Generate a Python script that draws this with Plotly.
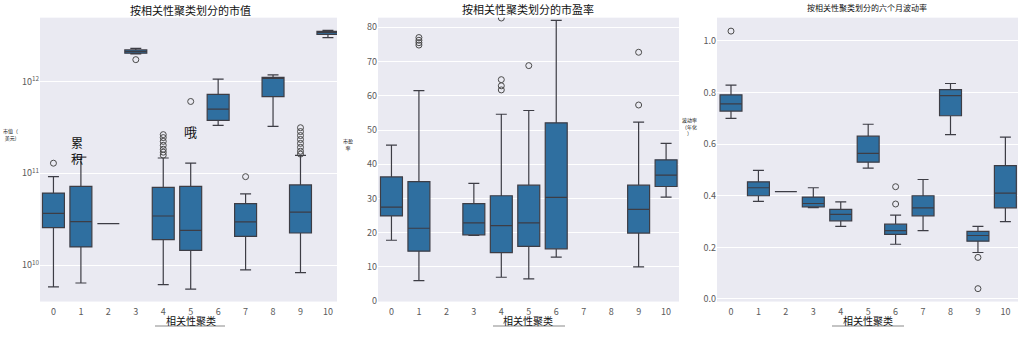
import plotly.graph_objects as go

W, H = 1024, 338
FONT = "Noto Sans CJK SC"

# ---------------- data ----------------
tick_cats = list(range(11))

# Panel 1: market cap (USD), log axis
cats1 = [0, 1, 2, 3, 4, 5, 6, 7, 8, 9, 10]
low1 = [5.8e9, 6.4e9, 2.83e10, 2.0e12, 6.15e9, 5.5e9, 3.33e11, 8.9e9, 3.24e11, 8.3e9, 3.0e12]
q1_1 = [2.57e10, 1.58e10, 2.83e10, 2.03e12, 1.9e10, 1.45e10, 3.77e11, 2.06e10, 6.85e11, 2.24e10, 3.26e12]
med1 = [3.66e10, 2.98e10, 2.83e10, 2.12e12, 3.43e10, 2.39e10, 5.0e11, 2.96e10, 1.09e12, 3.78e10, 3.43e12]
q3_1 = [6.1e10, 7.2e10, 2.83e10, 2.21e12, 7.05e10, 7.2e10, 7.26e11, 4.68e10, 1.11e12, 7.48e10, 3.51e12]
up1 = [9.2e10, 1.5e11, 2.83e10, 2.29e12, 1.47e11, 1.29e11, 1.06e12, 5.98e10, 1.18e12, 1.57e11, 3.6e12]
out1_x = [0, 3, 4, 4, 4, 4, 4, 4, 4, 5, 7, 9, 9, 9, 9, 9, 9, 9, 9]
out1_y = [1.29e11, 1.73e12, 2.64e11, 2.45e11, 2.23e11, 2.02e11, 1.83e11, 1.70e11, 1.58e11,
          6.06e11, 9.2e10, 3.14e11, 2.85e11, 2.58e11, 2.34e11, 2.12e11, 1.92e11, 1.74e11, 1.62e11]
ticks1 = [1e10, 1e11, 1e12]
ticklabels1 = ["10<sup>10</sup>", "10<sup>11</sup>", "10<sup>12</sup>"]

# Panel 2: P/E ratio
cats2 = [0, 1, 3, 4, 5, 6, 9, 10]
low2 = [17.8, 6.0, 19.2, 7.0, 6.5, 12.9, 10.0, 30.4]
q1_2 = [24.9, 14.6, 19.4, 14.2, 16.0, 15.3, 19.9, 33.5]
med2 = [27.5, 21.3, 22.9, 22.1, 22.9, 30.3, 26.8, 36.8]
q3_2 = [36.3, 34.9, 28.5, 30.8, 33.9, 52.1, 33.9, 41.3]
up2 = [45.6, 61.5, 34.4, 54.6, 55.7, 82.0, 52.3, 46.1]
out2_x = [1, 1, 1, 1, 4, 4, 4, 4, 5, 9, 9]
out2_y = [77.0, 76.2, 75.5, 74.8, 82.7, 64.7, 62.9, 61.7, 68.8, 72.7, 57.3]

# Panel 3: six-month volatility
cats3 = [0, 1, 2, 3, 4, 5, 6, 7, 8, 9, 10]
low3 = [0.700, 0.378, 0.416, 0.354, 0.281, 0.507, 0.212, 0.265, 0.637, 0.180, 0.300]
q1_3 = [0.728, 0.400, 0.416, 0.357, 0.303, 0.530, 0.250, 0.322, 0.710, 0.224, 0.353]
med3 = [0.756, 0.431, 0.416, 0.370, 0.328, 0.564, 0.265, 0.353, 0.788, 0.246, 0.410]
q3_3 = [0.791, 0.454, 0.416, 0.395, 0.347, 0.631, 0.290, 0.400, 0.811, 0.262, 0.517]
up3 = [0.829, 0.498, 0.416, 0.431, 0.376, 0.677, 0.325, 0.463, 0.835, 0.281, 0.627]
out3_x = [0, 6, 6, 9, 9]
out3_y = [1.038, 0.435, 0.368, 0.161, 0.040]

titles = ["按相关性聚类划分的市值", "按相关性聚类划分的市盈率", "按相关性聚类划分的六个月波动率"]
ytitles = ["市值（<br>美元)", "市盈<br>率", "波动率<br>（年化<br>）"]
xtitle = "相关性聚类"

# ---------------- styling ----------------
FILL = "#2f6fa0"
LINE = "#3d3d45"
BG = "#EAEAF2"
TICKC = "#5a5a5a"

def px(x):
    return x / W

def py(y):
    return 1 - y / H

fig = go.Figure()

panels = [
    (cats1, low1, q1_1, med1, q3_1, up1, out1_x, out1_y),
    (cats2, low2, q1_2, med2, q3_2, up2, out2_x, out2_y),
    (cats3, low3, q1_3, med3, q3_3, up3, out3_x, out3_y),
]
for i, (c, lo, a, m, b, hi, ox, oy) in enumerate(panels):
    xa = "x" if i == 0 else f"x{i+1}"
    ya = "y" if i == 0 else f"y{i+1}"
    fig.add_trace(go.Box(
        x=c, lowerfence=lo, q1=a, median=m, q3=b, upperfence=hi,
        xaxis=xa, yaxis=ya, width=0.8, whiskerwidth=0.5,
        fillcolor=FILL, line=dict(color=LINE, width=1.2),
        boxpoints=False, showlegend=False, hoverinfo="skip",
    ))
    fig.add_trace(go.Scatter(
        x=ox, y=oy, mode="markers", xaxis=xa, yaxis=ya,
        marker=dict(symbol="circle-open", size=6, color="#4a4a4a", line=dict(width=1)),
        showlegend=False, hoverinfo="skip",
    ))

ydom = [py(307), py(18)]
xdoms = [[px(40), px(337)], [px(378), px(679)], [px(717), px(1018)]]
xranges = [[-0.49, 10.33], [-0.49, 10.47], [-0.51, 10.46]]

axis_common = dict(showgrid=True, gridcolor="white", gridwidth=1, zeroline=False,
                   showline=False, ticks="", tickfont=dict(family=FONT, size=9, color=TICKC))

layout = dict(
    width=W, height=H, margin=dict(l=0, r=0, t=0, b=0),
    paper_bgcolor="white", plot_bgcolor=BG,
    font=dict(family=FONT),
)
for i in range(3):
    sx = "xaxis" if i == 0 else f"xaxis{i+1}"
    sy = "yaxis" if i == 0 else f"yaxis{i+1}"
    anchor_y = "y" if i == 0 else f"y{i+1}"
    anchor_x = "x" if i == 0 else f"x{i+1}"
    layout[sx] = dict(domain=xdoms[i], range=xranges[i], anchor=anchor_y,
                      tickvals=tick_cats, ticktext=[str(t) for t in tick_cats],
                      ticklabelstandoff=3,
                      **{**axis_common, "showgrid": False})
    layout[sy] = dict(domain=ydom, anchor=anchor_x, **axis_common)

layout["yaxis"].update(type="log", range=[9.604, 12.695], tickvals=ticks1, ticktext=ticklabels1)
layout["yaxis2"].update(range=[-0.1, 82.8], tickvals=[0, 10, 20, 30, 40, 50, 60, 70, 80])
layout["yaxis3"].update(range=[-0.01, 1.09], tickvals=[0.0, 0.2, 0.4, 0.6, 0.8, 1.0],
                        tickformat=".1f")
fig.update_layout(**layout)

def note(text, x, y, size):
    return dict(text=text, x=px(x), y=py(y), xref="paper", yref="paper", showarrow=False,
                xanchor="center", yanchor="middle",
                font=dict(family=FONT, size=size, color="#111111"))

ann = []
title_pos = [(190, 10, 11), (528, 9, 11), (867, 8, 8)]
for t, (x, y, s) in zip(titles, title_pos):
    ann.append(note(t, x, y, s))
for x in [191, 528, 868]:
    ann.append(note(xtitle, x, 326, 10))
for t, (x, y) in zip(ytitles, [(10, 137), (348, 147), (689, 128)]):
    ann.append(note(t, x, y, 5))
ann.append(note("累<br>积", 77, 153, 12))
ann.append(note("哦", 190, 134, 13))
fig.update_layout(annotations=ann)

shapes = []
for x0, x1 in [(155, 225), (493, 565), (832, 904)]:
    shapes.append(dict(type="line", xref="paper", yref="paper", x0=px(x0), x1=px(x1),
                       y0=py(332), y1=py(332), line=dict(color="#b0b0b0", width=1.5)))
fig.update_layout(shapes=shapes)

fig.write_html("out.html")
